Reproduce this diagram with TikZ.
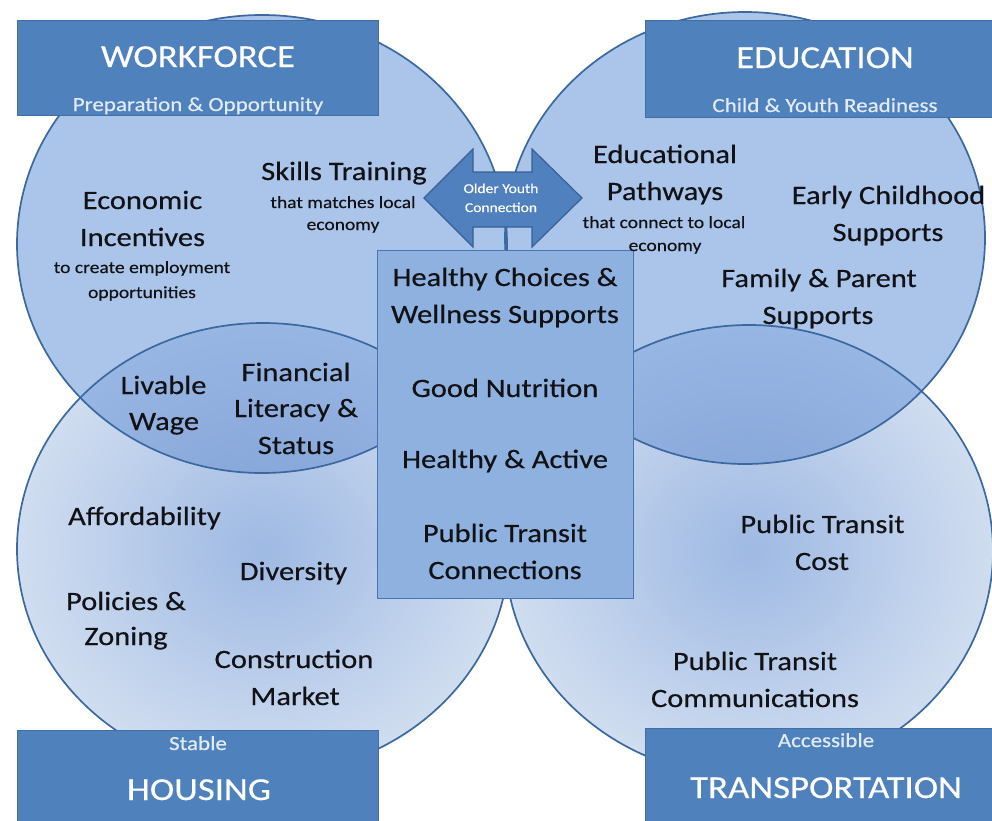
\documentclass[tikz,border=0pt]{standalone}
\usepackage{fontspec}
\setmainfont[FakeStretch=1.15,FakeBold=0.45]{Carlito}
\definecolor{cline}{RGB}{60,104,160}
\definecolor{topfill}{RGB}{170,197,233}
\definecolor{botin}{RGB}{158,185,227}
\definecolor{botout}{RGB}{208,221,240}
\definecolor{lensin}{RGB}{128,161,214}
\definecolor{lensout}{RGB}{152,182,227}
\definecolor{hdrblue}{RGB}{79,129,189}
\definecolor{hdrline}{RGB}{64,110,165}
\definecolor{hubfill}{RGB}{142,177,223}
\definecolor{hubline}{RGB}{72,118,178}
\definecolor{arrowfill}{RGB}{80,128,190}
\definecolor{arrowline}{RGB}{55,96,150}
\definecolor{txt}{RGB}{18,18,22}
\definecolor{subwhite}{RGB}{226,234,245}
\tikzset{
  circ/.style={draw=cline, line width=1.7pt},
  hdr/.style={fill=hdrblue, draw=hdrline, line width=0.8pt, inner sep=0pt, anchor=north west},
  big/.style={font=\fontsize{26.5}{30}\selectfont, text=txt, anchor=base, inner sep=0pt},
  small/.style={font=\fontsize{17}{20}\selectfont, text=txt, anchor=base, inner sep=0pt},
  head/.style={font=\fontsize{32}{36}\selectfont, text=white, anchor=base, inner sep=0pt},
  sub/.style={font=\fontsize{20}{24}\selectfont, text=subwhite, anchor=base, inner sep=0pt},
  tinytxt/.style={font=\fontsize{13.5}{15}\selectfont, text=white, anchor=base, inner sep=0pt},
}
\begin{document}
\begin{tikzpicture}[x=1pt,y=-1pt]
\useasboundingbox (0,0) rectangle (992,820);
\fill[white] (0,0) rectangle (992,820);
% circle fills
\shade[inner color=botin, outer color=botout] (263,549) ellipse [x radius=246pt, y radius=226pt];
\shade[inner color=botin, outer color=botout] (749,551) ellipse [x radius=244pt, y radius=226pt];
\fill[topfill] (262,244) ellipse [x radius=245pt, y radius=229pt];
\fill[topfill] (745,238) ellipse [x radius=240pt, y radius=226pt];
% lenses
\begin{scope}
  \clip (262,244) ellipse [x radius=245pt, y radius=229pt];
  \shade[inner color=lensin, outer color=lensout] (263,549) ellipse [x radius=246pt, y radius=226pt];
\end{scope}
\begin{scope}
  \clip (745,238) ellipse [x radius=240pt, y radius=226pt];
  \shade[inner color=lensin, outer color=lensout] (749,551) ellipse [x radius=244pt, y radius=226pt];
\end{scope}
% outlines
\draw[circ] (263,549) ellipse [x radius=246pt, y radius=226pt];
\draw[circ] (749,551) ellipse [x radius=244pt, y radius=226pt];
\draw[circ] (262,244) ellipse [x radius=245pt, y radius=229pt];
\draw[circ] (745,238) ellipse [x radius=240pt, y radius=226pt];

% header boxes
\node[hdr, minimum width=361pt, minimum height=95pt] (wfbox) at (17,20) {};
\node[hdr, minimum width=350pt, minimum height=97pt] (edbox) at (645,20) {};
\node[hdr, minimum width=361pt, minimum height=95pt] (hsbox) at (17,730) {};
\node[hdr, minimum width=350pt, minimum height=97pt] (trbox) at (645,728) {};

\node[head] (wf) at (198,67) {WORKFORCE};
\node[sub]  (wfs) at (198,111) {Preparation \& Opportunity};
\node[head] (ed) at (825,68) {EDUCATION};
\node[sub]  (eds) at (825,112) {Child \& Youth Readiness};
\node[sub]  (hss) at (198,750) {Stable};
\node[head] (hs) at (199,800) {HOUSING};
\node[sub]  (trs) at (826,747) {Accessible};
\node[head] (tr) at (826,798) {TRANSPORTATION};

% central box
\node[fill=hubfill, draw=hubline, line width=1pt, anchor=north west, inner sep=0pt,
      minimum width=256pt, minimum height=348pt] (hub) at (377,250) {};
\node[big] (h1) at (505,286) {Healthy Choices \&};
\node[big] (h2) at (505,323) {Wellness Supports};
\node[big] (h3) at (505,397) {Good Nutrition};
\node[big] (h4) at (505,468) {Healthy \& Active};
\node[big] (h5) at (505,542) {Public Transit};
\node[big] (h6) at (505,579) {Connections};

% double arrow
\draw[fill=arrowfill, draw=arrowline, line width=1.2pt, line join=miter]
  (424,198) -- (473,149) -- (473,172) -- (532,172) -- (532,149) -- (582,198)
  -- (532,247) -- (532,227) -- (473,227) -- (473,247) -- cycle;
\node[tinytxt] (oy1) at (501,193) {Older Youth};
\node[tinytxt] (oy2) at (501,212) {Connection};

% workforce
\node[big] (ec1) at (142.5,209) {Economic};
\node[big] (ec2) at (142.5,246) {Incentives};
\node[small] (ec3) at (142,273) {to create employment};
\node[small] (ec4) at (142,298) {opportunities};
\node[big] (sk1) at (344,180) {Skills Training};
\node[small] (sk2) at (343,208) {that matches local};
\node[small] (sk3) at (343,230) {economy};

% education
\node[big] (ep1) at (665,163) {Educational};
\node[big] (ep2) at (665,200) {Pathways};
\node[small] (ep3) at (664,228) {that connect to local};
\node[small] (ep4) at (665,251) {economy};
\node[big] (ecs1) at (888.5,204) {Early Childhood};
\node[big] (ecs2) at (888,241) {Supports};
\node[big] (fp1) at (819,287) {Family \& Parent};
\node[big] (fp2) at (818,324) {Supports};

% workforce/housing lens
\node[big] (lw1) at (163.5,394) {Livable};
\node[big] (lw2) at (164,430) {Wage};
\node[big] (fl1) at (296,381) {Financial};
\node[big] (fl2) at (296,417) {Literacy \&};
\node[big] (fl3) at (296,454) {Status};

% housing
\node[big] (af) at (144.5,525) {Affordability};
\node[big] (dv) at (293.5,580) {Diversity};
\node[big] (pz1) at (126,610) {Policies \&};
\node[big] (pz2) at (126,645) {Zoning};
\node[big] (cm1) at (294,668) {Construction};
\node[big] (cm2) at (295,705) {Market};

% transportation
\node[big] (pc1) at (822.5,533) {Public Transit};
\node[big] (pc2) at (822,570) {Cost};
\node[big] (pm1) at (755,670) {Public Transit};
\node[big] (pm2) at (755,707) {Communications};
\end{tikzpicture}
\end{document}
